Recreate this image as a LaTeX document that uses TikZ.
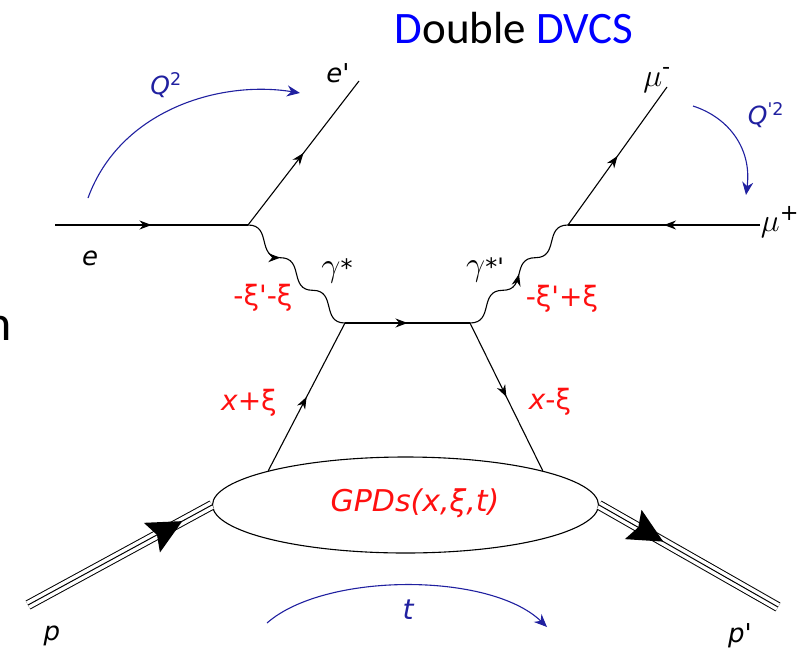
\RequirePackage{fix-cm}
\documentclass[tikz,border=0pt]{standalone}
\usepackage{fontspec}
\usepackage{xcolor}
\usetikzlibrary{arrows.meta,decorations.markings,shapes.geometric}
\newfontfamily\dvTitleFont{Carlito}
\newfontfamily\dvLabelFont{DejaVu Sans}[Ligatures=TeXOff]
\definecolor{DVTitle}{HTML}{0000FF}
\definecolor{DVArc}{HTML}{2020A0}
\definecolor{DVRed}{HTML}{FF1010}

\begin{document}
\begin{tikzpicture}[
  x=1pt,y=-1pt,>=Stealth,
  fermion/.style={draw,line width=1.1pt,postaction={decorate},
    decoration={markings,mark=at position #1 with
      {\arrow{Stealth[length=12pt,width=9pt]}}}},
  fermion/.default=0.5,
  hadron/.style={draw,line width=1pt,double distance=8pt,
    postaction={draw,line width=1pt},
    postaction={decorate,decoration={markings,mark=at position #1 with
      {\arrow{Stealth[length=34pt,width=32pt,inset=5pt]}}}}},
  momentum/.style={draw=DVArc,line width=1.1pt,-{Stealth[length=13pt,width=11pt]}},
  blob/.style={ellipse,draw,line width=1.1pt,fill=white,inner sep=0pt,
    minimum width=386pt,minimum height=96pt},
  title/.style={font=\dvTitleFont\fontsize{45}{48}\selectfont,inner sep=0pt},
  lbl/.style={font=\dvLabelFont\fontsize{26}{28}\selectfont,inner sep=0pt},
  arclbl/.style={lbl,text=DVArc,font=\dvLabelFont\fontsize{25}{27}\selectfont},
  kinlbl/.style={lbl,text=DVRed,font=\dvLabelFont\fontsize{28}{30}\selectfont}
]
\useasboundingbox (0,0) rectangle (803,651);

% title and the cut-off letter at the left edge
\node[title,anchor=base] (title) at (514,43)
  {\textcolor{DVTitle}{D}ouble \textcolor{DVTitle}{DVCS}};
\node[anchor=base east,inner sep=0pt,font=\dvTitleFont\fontsize{50}{52}\selectfont]
  (cut) at (12,340) {n};

% vertices and free ends
\coordinate (eIn) at (55,225);
\coordinate (vE) at (248,225);
\coordinate (eOut) at (359,81);
\coordinate (vMu) at (568,225);
\coordinate (muM) at (667,87);
\coordinate (muP) at (760,225);
\coordinate (qL) at (345,323);
\coordinate (qR) at (470,323);
\coordinate (pIn) at (28,605);
\coordinate (pOut) at (778,607);

% GPD blob
\node[blob] (gpd) at (405.5,505) {};
\node[kinlbl,font=\dvLabelFont\itshape\fontsize{30}{32}\selectfont] (gpdtxt)
  at (415,503) {GPDs(x,ξ,t)};

% lepton lines
\draw[fermion] (eIn) -- (vE);
\draw[fermion] (vE) -- (eOut);
\draw[fermion] (vMu) -- (muM);
\draw[fermion] (muP) -- (vMu);

% virtual photons (staircase wiggles)
\draw[fermion=0.333] (vE) .. controls (272.3,225) and (256.1,257.7) .. (280.3,257.7)
  .. controls (304.6,257.7) and (288.4,290.3) .. (312.7,290.3)
  .. controls (336.9,290.3) and (320.8,323) .. (qL);
\draw[fermion] (qR) .. controls (494.5,323) and (478.2,290.3) .. (502.7,290.3)
  .. controls (527.2,290.3) and (510.8,257.7) .. (535.3,257.7)
  .. controls (559.8,257.7) and (543.5,225) .. (vMu);

% quark loop
\draw[fermion] (gpd.166) -- (qL);
\draw[fermion] (qL) -- (qR);
\draw[fermion] (qR) -- (gpd.14);

% proton lines
\draw[hadron=0.84] (pIn) -- (gpd.west);
\draw[hadron=0.36] (gpd.east) -- (pOut);

% momentum transfer arcs
\coordinate (q2s) at (88,198);
\coordinate (q2e) at (300,93);
\coordinate (qp2s) at (693,106);
\coordinate (qp2e) at (746,195);
\coordinate (ts) at (267,623);
\coordinate (te) at (547,627);
\draw[momentum] (q2s) .. controls (120,110) and (220,80) .. (q2e);
\draw[momentum] (qp2s) .. controls (730,118) and (752,150) .. (qp2e);
\draw[momentum] (ts) .. controls (325,572) and (490,572) .. (te);

% labels
\node[lbl] (eLbl) at (90,258) {\itshape e};
\node[lbl] (ePLbl) at (338,73) {\itshape e'};
\node[lbl] (pLbl) at (52,636) {\itshape p};
\node[lbl] (pPLbl) at (740,636) {\itshape p'};
\node[lbl,font=\fontsize{32}{34}\selectfont] (muMLbl) at (657,80)
  {$\mu$\textsuperscript{\dvLabelFont -}};
\node[lbl,font=\fontsize{32}{34}\selectfont] (muPLbl) at (780,222)
  {$\mu$\textsuperscript{\dvLabelFont +}};
\node[lbl,font=\dvLabelFont\fontsize{24}{26}\selectfont] (gLbl) at (337,271)
  {{\fontsize{34}{36}\selectfont$\gamma$}*};
\node[lbl,font=\dvLabelFont\fontsize{24}{26}\selectfont] (gPLbl) at (485,270)
  {{\fontsize{34}{36}\selectfont$\gamma$}*'};
\node[arclbl] (q2Lbl) at (166,85) {{\itshape Q}\textsuperscript{2}};
\node[arclbl] (qp2Lbl) at (766,115) {{\itshape Q}\textsuperscript{'2}};
\node[arclbl,font=\dvLabelFont\fontsize{28}{30}\selectfont] (tLbl) at (408,610) {\itshape t};
\node[kinlbl] (kinL) at (263,298) {-ξ'-ξ};
\node[kinlbl] (kinR) at (562,299) {-ξ'+ξ};
\node[kinlbl] (xPlus) at (249,403) {{\itshape x}+ξ};
\node[kinlbl] (xMinus) at (550,402) {{\itshape x}-ξ};

\end{tikzpicture}
\end{document}
